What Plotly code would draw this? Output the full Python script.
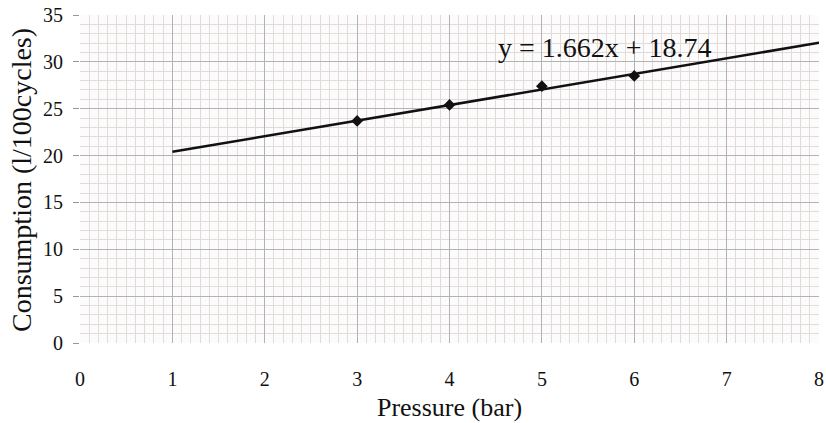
import plotly.graph_objects as go

pressure = [3, 4, 5, 6]
consumption = [23.7, 25.4, 27.4, 28.5]
trend_x = [1, 8]
slope = 1.662
intercept = 18.74
x_ticks = [0, 1, 2, 3, 4, 5, 6, 7, 8]
y_ticks = [0, 5, 10, 15, 20, 25, 30, 35]

trend_y = [slope * v + intercept for v in trend_x]

font = "Liberation Serif, Times New Roman, serif"

fig = go.Figure()
fig.add_trace(go.Scatter(x=trend_x, y=trend_y, mode="lines",
                         line=dict(color="#111111", width=2.5), showlegend=False))
fig.add_trace(go.Scatter(x=pressure, y=consumption, mode="markers",
                         marker=dict(symbol="diamond", size=9, color="#111111"),
                         showlegend=False))

fig.add_annotation(x=5.68, y=31.5, xref="x", yref="y",
                   text=f"y = {slope}x + {intercept}", showarrow=False,
                   font=dict(family=font, size=28, color="#111111"))

# y-axis title placed as annotation (pixel targets converted to paper coords)
fig.add_annotation(x=(21 - 80) / (819 - 80), y=(343 - 180) / (343 - 15),
                   xref="paper", yref="paper", xanchor="center", yanchor="middle",
                   text="Consumption (l/100cycles)", showarrow=False, textangle=-90,
                   font=dict(family=font, size=28, color="#111111"))

fig.update_layout(
    width=826, height=423,
    margin=dict(l=80, r=7, t=15, b=80, autoexpand=False),
    plot_bgcolor="#fdfcfc", paper_bgcolor="white",
    font=dict(family=font, color="#111111"),
    xaxis=dict(range=[0, 8], tickvals=x_ticks, showgrid=True,
               gridcolor="#b3b3b3", gridwidth=1,
               minor=dict(dtick=0.1, showgrid=True, gridcolor="#e4dada", gridwidth=1),
               zeroline=False, showline=False, automargin=False,
               tickfont=dict(size=20), ticklabelstandoff=22,
               title=dict(text="Pressure (bar)", font=dict(size=26), standoff=8)),
    yaxis=dict(range=[0, 35], tickvals=y_ticks, showgrid=True,
               gridcolor="#b3b3b3", gridwidth=1,
               minor=dict(dtick=1, showgrid=True, gridcolor="#e4dada", gridwidth=1),
               zeroline=False, showline=False, automargin=False,
               ticks="outside", ticklen=6, tickcolor="#999999",
               tickfont=dict(size=20), ticklabelstandoff=6),
)

fig.write_html("out.html", config={"displayModeBar": False},
               post_script="document.body.style.margin='0';document.body.style.overflow='hidden';")
